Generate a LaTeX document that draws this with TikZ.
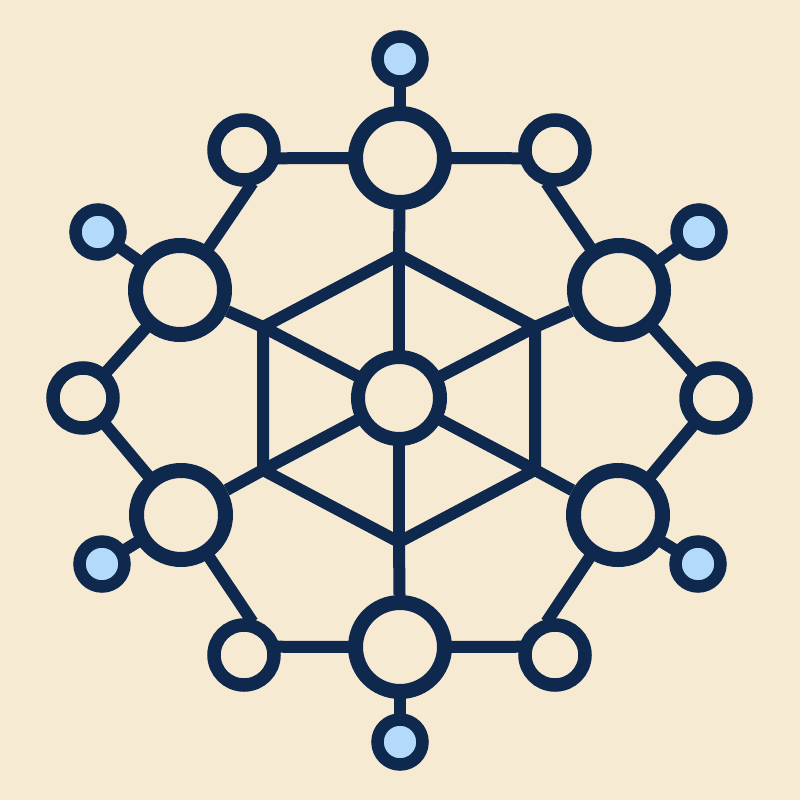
\documentclass[tikz,border=0pt]{standalone}
\definecolor{bgc}{RGB}{247,234,210}
\definecolor{navy}{RGB}{14,40,78}
\definecolor{lblue}{RGB}{180,218,250}
\begin{document}
\begin{tikzpicture}[x=1pt,y=-1pt,
  conn/.style={navy,line width=12pt},
  into/.style={shorten <=-4pt,shorten >=-4pt},
  bignode/.style={circle,draw=navy,fill=bgc,line width=15pt,minimum size=89pt,inner sep=0pt},
  hubnode/.style={circle,draw=navy,fill=bgc,line width=14pt,minimum size=82pt,inner sep=0pt},
  smallnode/.style={circle,draw=navy,fill=bgc,line width=13.5pt,minimum size=60pt,inner sep=0pt},
  leafnode/.style={circle,draw=navy,fill=lblue,line width=12.5pt,minimum size=45pt,inner sep=0pt}]
\fill[bgc] (0,0) rectangle (800,800);
\useasboundingbox (0,0) rectangle (800,800);
% hexagon vertices
\coordinate (hT) at (399,255);
\coordinate (hUR) at (535,327);
\coordinate (hLR) at (535,470);
\coordinate (hB) at (399,542);
\coordinate (hLL) at (263,470);
\coordinate (hUL) at (263,327);
% nodes
\node[hubnode] (c) at (399,398) {};
\node[bignode] (bT) at (400,158) {};
\node[bignode] (bUR) at (619,290) {};
\node[bignode] (bLR) at (618,515) {};
\node[bignode] (bB) at (400,647) {};
\node[bignode] (bLL) at (181,515) {};
\node[bignode] (bUL) at (180,290) {};
\node[smallnode] (sTL) at (244,150) {};
\node[smallnode] (sTR) at (555,150) {};
\node[smallnode] (sR) at (716,398) {};
\node[smallnode] (sBR) at (555,655) {};
\node[smallnode] (sBL) at (244,655) {};
\node[smallnode] (sL) at (83,398) {};
\node[leafnode] (lT) at (400,59) {};
\node[leafnode] (lUR) at (699,232) {};
\node[leafnode] (lLR) at (698,564) {};
\node[leafnode] (lB) at (400,742) {};
\node[leafnode] (lLL) at (102,564) {};
\node[leafnode] (lUL) at (98,232) {};
% hexagon and spokes
\draw[conn,line join=miter] (hT) -- (hUR) -- (hLR) -- (hB) -- (hLL) -- (hUL) -- cycle;
\foreach \v in {hT,hUR,hLR,hB,hLL,hUL} \draw[conn,shorten <=-4pt] (c) -- (\v);
% hexagon to big nodes
\draw[conn] (hT) -- (bT);
\draw[conn] (hUR) -- (bUR);
\draw[conn] (hLR) -- (bLR);
\draw[conn] (hB) -- (bB);
\draw[conn] (hLL) -- (bLL);
\draw[conn] (hUL) -- (bUL);
% outer ring
\draw[conn,into] (bT) -- (sTL.-13);
\draw[conn,into] (bT) -- (sTR.193);
\draw[conn,into] (sTR.-100) -- (bUR);
\draw[conn,into] (bUR) -- (sR);
\draw[conn,into] (sR) -- (bLR);
\draw[conn,into] (bLR) -- (sBR.100);
\draw[conn,into] (sBR.167) -- (bB);
\draw[conn,into] (bB) -- (sBL.13);
\draw[conn,into] (sBL.80) -- (bLL);
\draw[conn,into] (bLL) -- (sL);
\draw[conn,into] (sL) -- (bUL);
\draw[conn,into] (bUL) -- (sTL.-80);
% leaves
\draw[conn,into] (bT) -- (lT);
\draw[conn,into] (bUR) -- (lUR);
\draw[conn,into] (bLR) -- (lLR);
\draw[conn,into] (bB) -- (lB);
\draw[conn,into] (bLL) -- (lLL);
\draw[conn,into] (bUL) -- (lUL);
\end{tikzpicture}
\end{document}
